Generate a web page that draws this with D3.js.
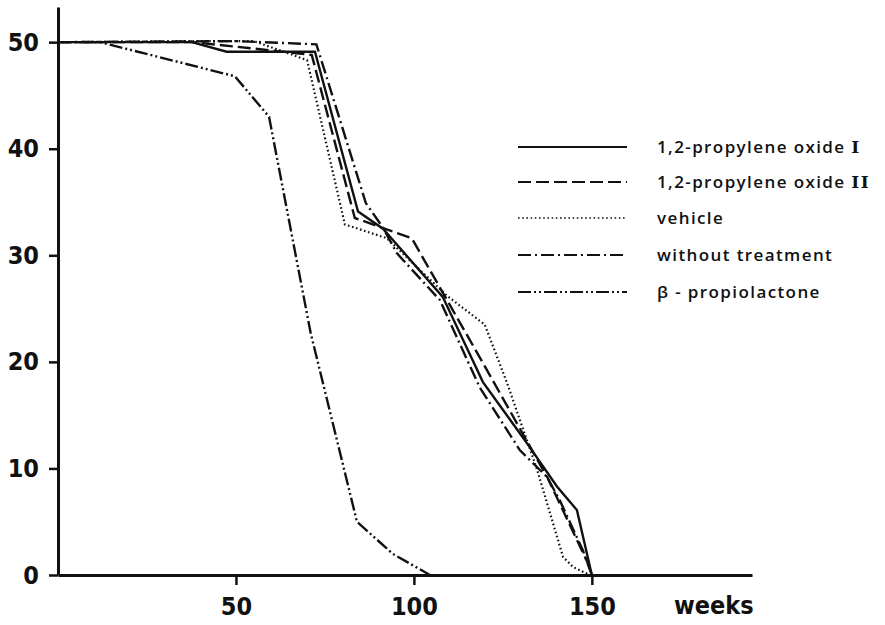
<!DOCTYPE html>
<html>
<head>
<meta charset="utf-8">
<script src="https://cdn.jsdelivr.net/npm/d3@7/dist/d3.min.js"></script>
<style>
  body { margin: 0; background: #fff; }
  svg { display: block; }
  .tick text, .lab { font-family: "DejaVu Sans Condensed", "DejaVu Sans", sans-serif; font-weight: bold; fill: #111; }
  .leg { font-family: "Open Sans", "DejaVu Sans", sans-serif; font-weight: 600; font-size: 17px; letter-spacing: 1.4px; fill: #111; }
  .rom { font-family: "DejaVu Serif", serif; font-weight: bold; }
</style>
</head>
<body>
<svg id="chart" width="885" height="625"></svg>
<script>
// ---- data (weeks, surviving animals) ----
const seriesNames = ["1,2-propylene oxide ", "1,2-propylene oxide ", "vehicle", "without treatment", "\u03B2 - propiolactone"];
const seriesSuffix = ["I", "II", "", "", ""];

const pox1Weeks  = [0, 37.6, 47.4, 72.2, 84.3, 91.3, 108.1, 119.4, 131.7, 140.2, 145.8, 150];
const pox1Values = [50, 50, 49.1, 49.1, 34.1, 32.5, 26.1, 18.1, 12.4, 8.3, 6.1, 0];

const pox2Weeks  = [0, 38, 55, 71.3, 83.4, 99.4, 119.9, 137.6, 148.9, 150];
const pox2Values = [50, 50, 49.4, 48.8, 33.5, 31.6, 19.6, 9.1, 1.1, 0];

const vehWeeks   = [0, 37, 55, 66, 70, 80.6, 92.4, 109.3, 119.9, 126.2, 134.6, 141.9, 144.7, 149.4];
const vehValues  = [50, 50.1, 50.1, 48.8, 48.3, 32.9, 31.6, 26.2, 23.5, 18.0, 9.9, 1.7, 0.75, 0];

const wtWeeks    = [0, 50, 72.6, 86.5, 91.3, 95.2, 107.3, 118.5, 129.8, 137.4, 141, 147.5, 150];
const wtValues   = [50, 50.1, 49.8, 34.9, 32.6, 30.2, 25.8, 17.6, 11.7, 9.2, 7.0, 2.3, 0];

const bpWeeks    = [0, 11.8, 49.7, 59.3, 71, 84, 94, 104.5];
const bpValues   = [50, 50, 46.8, 43.0, 22.7, 5.0, 2.0, 0];

const xTicks = [50, 100, 150];
const yTicks = [0, 10, 20, 30, 40, 50];
const xLabel = "weeks";

// ---- layout ----
const svg = d3.select("#chart");
const x = d3.scaleLinear().domain([0, 195]).range([58, 752]);
const y = d3.scaleLinear().domain([0, 53.3]).range([575, 7]);

const styles = [
  { dash: null },
  { dash: "13,5" },
  { dash: "1.6,2.6" },
  { dash: "13,4,2,4" },
  { dash: "13,3,2,3,2,3" }
];

const series = [
  [pox1Weeks, pox1Values],
  [pox2Weeks, pox2Values],
  [vehWeeks, vehValues],
  [wtWeeks, wtValues],
  [bpWeeks, bpValues]
];

const line = d3.line().x(d => x(d[0])).y(d => y(d[1]));

series.forEach((s, i) => {
  const pts = s[0].map((w, k) => [w, s[1][k]]);
  svg.append("path")
    .attr("d", line(pts))
    .attr("fill", "none")
    .attr("stroke", "#111")
    .attr("stroke-width", i === 2 ? 2.2 : 2.4)
    .attr("stroke-linejoin", "miter")
    .attr("stroke-dasharray", styles[i].dash);
});

// axes
const xAxis = d3.axisBottom(x).tickValues(xTicks).tickSize(10).tickSizeOuter(0).tickPadding(12);
const gx = svg.append("g").attr("transform", `translate(0,${y(0)})`).call(xAxis);
gx.select(".domain").attr("stroke", "#111").attr("stroke-width", 3);
gx.selectAll(".tick line").attr("stroke", "#111").attr("stroke-width", 2.5);
gx.selectAll(".tick text").attr("font-size", 25);

const yAxis = d3.axisLeft(y).tickValues(yTicks).tickSize(9).tickSizeOuter(0).tickPadding(10);
const gy = svg.append("g").attr("transform", `translate(${x(0)},0)`).call(yAxis);
gy.select(".domain").attr("stroke", "#111").attr("stroke-width", 3);
gy.selectAll(".tick line").attr("stroke", "#111").attr("stroke-width", 2.5);
gy.selectAll(".tick text").attr("font-size", 25);

svg.append("text").attr("class", "lab")
  .attr("x", 674).attr("y", 614)
  .attr("font-size", 25)
  .text(xLabel);

// legend
const legY = [147, 182, 218, 255, 292];
seriesNames.forEach((n, i) => {
  svg.append("line")
    .attr("x1", 518).attr("x2", 627)
    .attr("y1", legY[i]).attr("y2", legY[i])
    .attr("stroke", "#111")
    .attr("stroke-width", i === 2 ? 1.6 : 2)
    .attr("stroke-dasharray", styles[i].dash);
  const t = svg.append("text").attr("class", "leg")
    .attr("x", 657).attr("y", legY[i])
    .attr("dy", "0.36em")
    .text(n);
  if (seriesSuffix[i]) t.append("tspan").attr("class", "rom").text(seriesSuffix[i]);
});
</script>
</body>
</html>
